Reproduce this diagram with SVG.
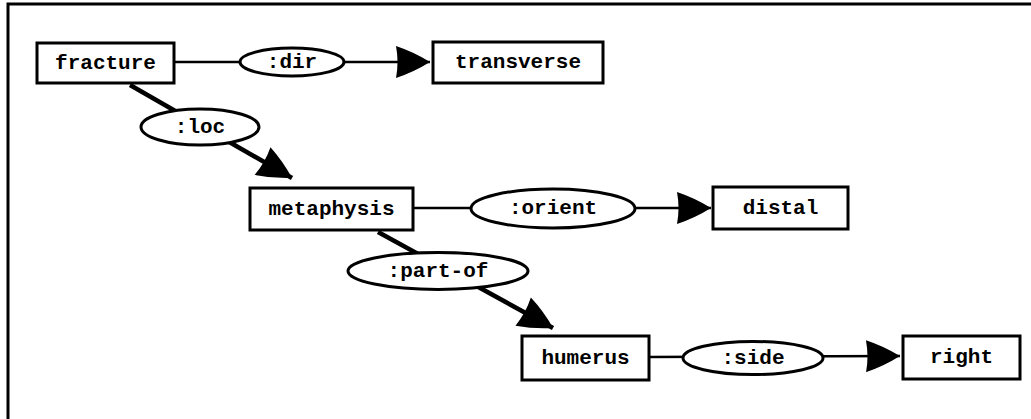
<svg xmlns="http://www.w3.org/2000/svg" width="1031" height="419" viewBox="0 0 1031 419">
<style>
.box{fill:#fff;stroke:#000;stroke-width:3}
.ell{fill:#fff;stroke:#000;stroke-width:3}
.lbl{font-family:"Liberation Mono","Courier New",monospace;font-weight:bold;font-size:21px;fill:#000;text-anchor:middle;dominant-baseline:central}
.con{stroke:#000;stroke-width:2.5;fill:none}
.dia{stroke:#000;stroke-width:4.5;fill:none}
</style>
<defs>
<marker id="ah" markerUnits="userSpaceOnUse" markerWidth="37" markerHeight="32" refX="35" refY="16" orient="auto" viewBox="0 0 37 32">
<path d="M1,0 Q19,6 35,16 Q19,26 1,32 Q4,16 1,0 Z" fill="#000"/>
</marker>
</defs>
<rect x="8" y="4" width="1040" height="430" fill="none" stroke="#000" stroke-width="3"/>
<g id="connectors">
<line class="con" x1="174" y1="62" x2="430" y2="62" marker-end="url(#ah)"/>
<line class="dia" x1="130" y1="85" x2="292" y2="178" marker-end="url(#ah)"/>
<line class="con" x1="413" y1="208" x2="711" y2="208" marker-end="url(#ah)"/>
<line class="dia" x1="378" y1="232" x2="553" y2="328" marker-end="url(#ah)"/>
<line class="con" x1="649" y1="357" x2="900" y2="356" marker-end="url(#ah)"/>
</g>
<g id="fracture"><rect class="box" x="37" y="43" width="137" height="40"/><text class="lbl" x="105.5" y="63">fracture</text></g>
<g id="dir"><ellipse class="ell" cx="292" cy="62" rx="52" ry="14"/><text class="lbl" x="292" y="62">:dir</text></g>
<g id="transverse"><rect class="box" x="433" y="42" width="170" height="41"/><text class="lbl" x="518" y="62.5">transverse</text></g>
<g id="loc"><ellipse class="ell" cx="200" cy="127" rx="59" ry="18"/><text class="lbl" x="200" y="127">:loc</text></g>
<g id="metaphysis"><rect class="box" x="250" y="188" width="163" height="42"/><text class="lbl" x="331.5" y="209">metaphysis</text></g>
<g id="orient"><ellipse class="ell" cx="553" cy="208.5" rx="82" ry="19.5"/><text class="lbl" x="553" y="208.5">:orient</text></g>
<g id="distal"><rect class="box" x="713" y="187" width="135" height="42"/><text class="lbl" x="780.5" y="208">distal</text></g>
<g id="part-of"><ellipse class="ell" cx="438" cy="271" rx="90" ry="18.5"/><text class="lbl" x="438" y="271">:part-of</text></g>
<g id="humerus"><rect class="box" x="522" y="336" width="127" height="44"/><text class="lbl" x="585.5" y="358">humerus</text></g>
<g id="side"><ellipse class="ell" cx="753" cy="358" rx="70" ry="16.5"/><text class="lbl" x="753" y="358">:side</text></g>
<g id="right"><rect class="box" x="903" y="336" width="117" height="43"/><text class="lbl" x="961.5" y="357.5">right</text></g>
</svg>
